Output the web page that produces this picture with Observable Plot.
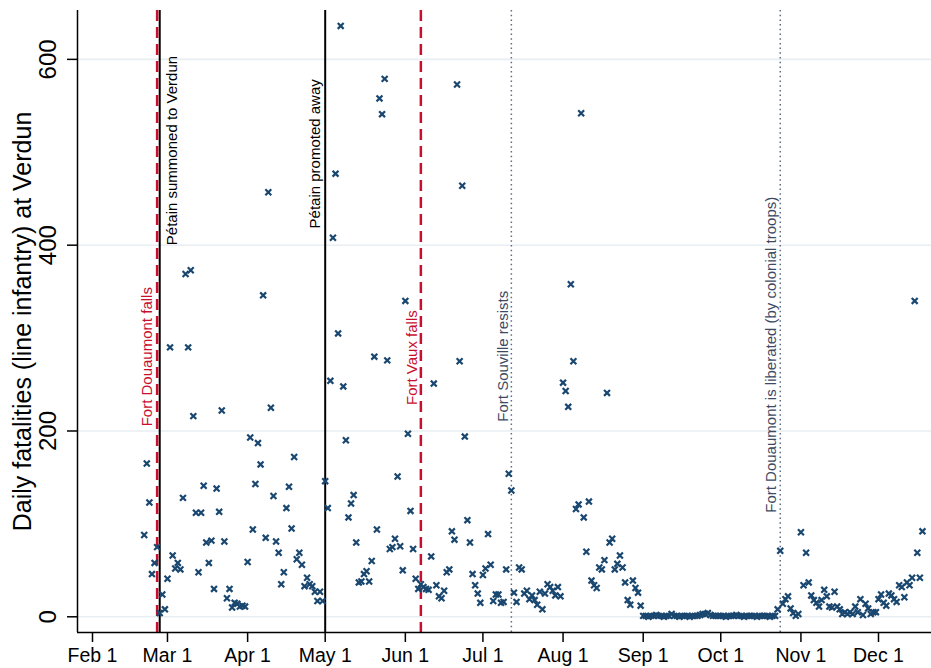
<!DOCTYPE html>
<html><head><meta charset="utf-8">
<script src="https://cdn.jsdelivr.net/npm/d3@7"></script>
<script src="https://cdn.jsdelivr.net/npm/@observablehq/plot@0.6"></script>
<style>body{margin:0;background:#fff;} #chart svg{display:block}</style>
</head><body><div id="chart"></div>
<script>
// Daily fatalities, one value per consecutive day starting at each month's start date
const monthStart = ["1916-02-21","1916-03-01","1916-04-01","1916-05-01","1916-06-01","1916-07-01","1916-08-01","1916-09-01","1916-10-01","1916-11-01","1916-12-01"];
const feb = [88,165,123,46,58,75,4,24,8];
const mar = [41,290,66,52,58,51,128,369,290,373,216,112,48,112,141,80,58,82,30,138,113,222,81,20,30,10,15,14,11,12,11];
const apr = [59,193,94,143,187,164,346,85,457,225,130,81,69,35,48,117,140,95,172,62,69,56,33,42,35,33,27,17,27,17];
const may = [146,117,254,408,477,305,636,248,190,107,122,131,80,37,38,46,49,38,60,280,94,558,541,579,276,73,75,84,151,76,50];
const jun = [340,197,114,73,41,30,35,32,30,29,65,251,34,22,20,28,48,51,92,83,573,275,464,194,104,80,46,34,25,15];
const jul = [45,52,89,56,17,24,24,15,16,51,154,136,26,16,53,51,25,28,19,23,18,13,27,8,25,35,32,28,23,32,22];
const aug = [252,243,226,358,275,116,121,542,107,70,124,39,34,31,53,51,61,241,80,84,51,57,66,53,37,18,13,39,31,26,12];
const sep = [1,1,0,1,1,2,1,1,0,1,1,3,1,1,0,1,1,1,0,1,1,1,2,3,3,4,2,1,1,1];
const oct = [1,1,0,1,1,1,2,1,1,0,1,1,1,1,0,1,1,1,1,0,1,1,8,71,14,19,22,9,4,1,3];
const nov = [91,34,69,37,23,18,15,11,18,29,22,11,10,27,11,8,3,5,3,5,3,11,5,19,2,14,9,3,5,5];
const dec = [19,24,15,12,25,23,19,16,34,32,21,37,34,42,340,69,42,92];
const months = [feb,mar,apr,may,jun,jul,aug,sep,oct,nov,dec];

// Events
const eventDates  = ["1916-02-26","1916-02-27","1916-05-01","1916-06-07","1916-07-12","1916-10-24"];
const eventLabels = ["Fort Douaumont falls","Pétain summoned to Verdun","Pétain promoted away","Fort Vaux falls","Fort Souville resists","Fort Douaumont is liberated (by colonial troops)"];
const eventKinds  = ["fort","petain","petain","fort","resist","resist"];

// Axis ticks
const yTicks = [0,200,400,600];
const xTickMonths = ["1916-02-01","1916-03-01","1916-04-01","1916-05-01","1916-06-01","1916-07-01","1916-08-01","1916-09-01","1916-10-01","1916-11-01","1916-12-01"];
const yTitle = "Daily fatalities (line infantry) at Verdun";

const rows = [];
months.forEach((arr, m) => {
  const start = new Date(monthStart[m] + "T00:00Z");
  arr.forEach((v, i) => { if (v != null) rows.push({date: d3.utcDay.offset(start, i), value: v}); });
});
const events = eventDates.map((d, i) => ({date: new Date(d + "T00:00Z"), label: eventLabels[i], kind: eventKinds[i]}));
const xTicks = xTickMonths.map(d => new Date(d + "T00:00Z"));

const xMin = new Date("1916-01-26T04:48Z"), xMax = new Date("1916-12-21T12:00Z");
const yMin = -16.9, yMax = 652.6;

const RED = "#c8102e", NAVY = "#1a476f", DOT = "#5f6b84", DOTTXT = "#3d4a63";
const font = "Liberation Sans, Arial, Helvetica, sans-serif";

const labelFill = {fort: RED, petain: "#000", resist: DOTTXT};
// label anchor values (start of rotated text) and horizontal offsets
const labelPos = {
  "Fort Douaumont falls": [205, -10],
  "Pétain summoned to Verdun": [400, 12],
  "Pétain promoted away": [418, -10],
  "Fort Vaux falls": [228, -9],
  "Fort Souville resists": [210, -8],
  "Fort Douaumont is liberated (by colonial troops)": [112, -9]
};

const chart = Plot.plot({
  width: 931, height: 668,
  marginLeft: 77, marginRight: 0, marginTop: 10, marginBottom: 36,
  style: {fontFamily: font, background: "#fff", overflow: "visible"},
  x: {type: "utc", domain: [xMin, xMax], label: null},
  y: {domain: [yMin, yMax], label: null},
  marks: [
    Plot.ruleY(yTicks, {stroke: "#e8eef2", strokeWidth: 1.6}),
    Plot.ruleX(events.filter(e => e.kind === "resist"), {x: "date", stroke: DOT, strokeWidth: 1.5, strokeDasharray: "1.5,3.2"}),
    Plot.ruleX(events.filter(e => e.kind === "petain"), {x: "date", stroke: "#000", strokeWidth: 2}),
    Plot.ruleX(events.filter(e => e.kind === "fort"), {x: "date", stroke: RED, strokeWidth: 2.5, strokeDasharray: "11,6"}),
    ...events.map(e => Plot.text([e], {
      x: "date", y: () => labelPos[e.label][0], text: "label", rotate: -90,
      textAnchor: "start", dx: labelPos[e.label][1], fontSize: 15, fill: labelFill[e.kind]
    })),
    Plot.dot(rows, {x: "date", y: "value", symbol: "times", r: 2.8, stroke: NAVY, strokeWidth: 2.2}),
    Plot.ruleX([xMin], {stroke: "#000", strokeWidth: 1.5}),
    Plot.ruleY([yMin], {stroke: "#000", strokeWidth: 1.5}),
    Plot.axisY({ticks: yTicks, tickSize: 10, tickFormat: () => "", stroke: "#000", strokeWidth: 1.5, label: null}),
    Plot.axisX({ticks: xTicks, tickFormat: d3.utcFormat("%b %-d"), tickSize: 10, tickPadding: 6, fontSize: 19.5, stroke: "#000", strokeWidth: 1.5, fill: "#000", label: null}),
    Plot.text(yTicks, {x: xMin, y: d => d, text: d => String(d), rotate: -90, dx: -29, fontSize: 24, fill: "#000"}),
    Plot.text([yTitle], {frameAnchor: "left", textAnchor: "middle", rotate: -90, dx: -55, fontSize: 25, fill: "#000"})
  ]
});
document.getElementById("chart").appendChild(chart);
</script>
</body></html>
